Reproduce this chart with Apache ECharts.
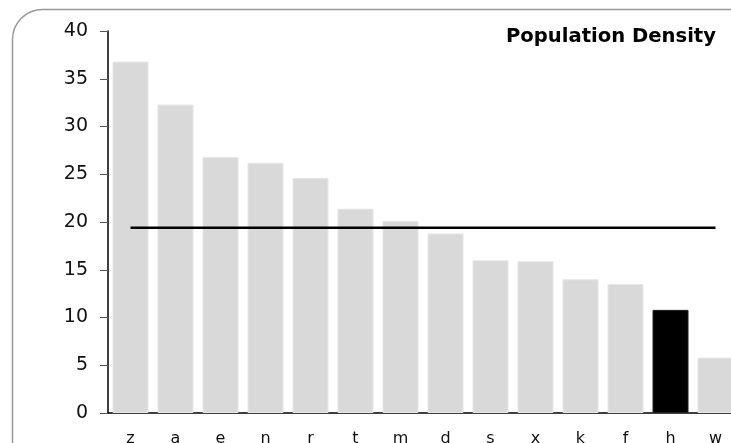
<!DOCTYPE html>
<html><head><meta charset="utf-8">
<script src="https://cdn.jsdelivr.net/npm/echarts@6/dist/echarts.min.js"></script>
<style>html,body{margin:0;padding:0;background:#fff}#c{width:731px;height:443px}</style>
</head><body><div id="c"></div>
<script>
const categories = ['z','a','e','n','r','t','m','d','s','x','k','f','h','w'];
const densityValues = [36.8, 32.3, 26.8, 26.2, 24.6, 21.4, 20.1, 18.8, 16.0, 15.9, 14.0, 13.5, 10.8, 5.8];
const highlightCategory = 'h';
const averageValue = 19.4;
const yTicks = [0, 5, 10, 15, 20, 25, 30, 35, 40];

const chart = echarts.init(document.getElementById('c'), null, {renderer: 'canvas'});
const font = 'DejaVu Sans, Verdana, sans-serif';
chart.setOption({
  animation: false,
  backgroundColor: '#fff',
  graphic: [{
    type: 'rect', z: -1, silent: true,
    shape: {x: 12.5, y: 9.5, width: 760, height: 480, r: 30},
    style: {fill: 'none', stroke: '#999', lineWidth: 1.5}
  }, {
    type: 'text', right: 15, top: 27,
    style: {text: 'Population Density', font: 'bold 19.6px ' + font, fill: '#000'}
  }],
  grid: {left: 108, width: 630, top: 31, height: 382, containLabel: false, outerBoundsMode: 'none'},
  xAxis: {
    type: 'category', data: categories,
    axisLine: {lineStyle: {color: '#000', width: 1.5}},
    axisTick: {show: false},
    axisLabel: {fontFamily: font, fontSize: 16, color: '#111', margin: 18}
  },
  yAxis: {
    type: 'value', min: yTicks[0], max: yTicks[yTicks.length - 1], interval: 5,
    splitLine: {show: false},
    axisLine: {show: true, lineStyle: {color: '#000', width: 1.5}},
    axisTick: {show: true, length: 8, lineStyle: {color: '#555'}},
    axisLabel: {fontFamily: font, fontSize: 19, color: '#111', margin: 20, padding: [5, 0, 0, 0]}
  },
  series: [{
    type: 'bar', barWidth: '80%',
    data: densityValues.map((v, i) => ({
      value: v,
      itemStyle: categories[i] === highlightCategory
        ? {color: '#000', borderColor: '#222', borderWidth: 1}
        : {color: '#d9d9d9', borderColor: '#e6e6e6', borderWidth: 1}
    }))
  }, {
    type: 'line', data: categories.map(() => averageValue),
    symbol: 'none', lineStyle: {color: '#000', width: 2.5}, z: 5
  }]
});
</script></body></html>
